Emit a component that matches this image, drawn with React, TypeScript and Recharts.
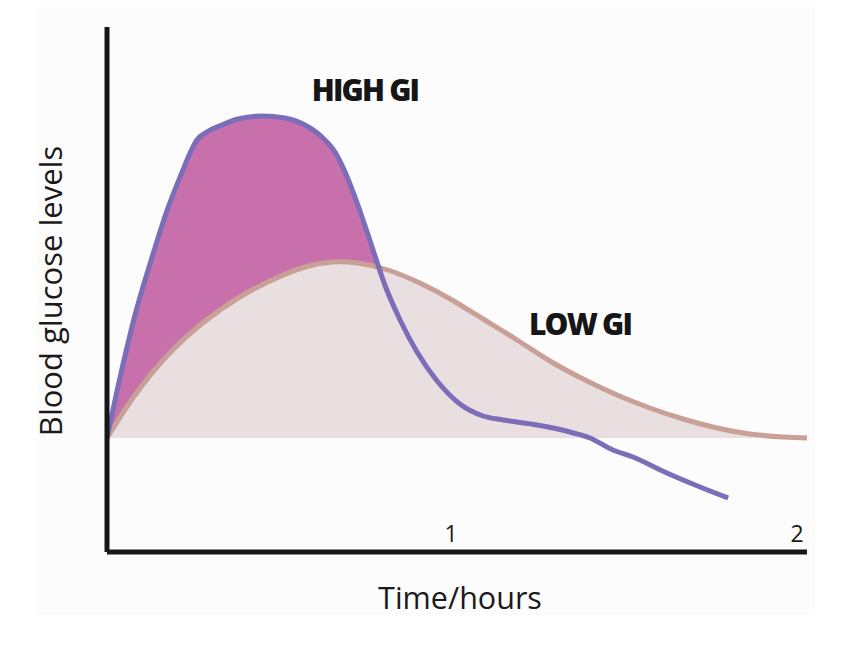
import React from 'react';
import { ComposedChart, Area, Line, XAxis, YAxis } from 'recharts';

const highTimes = [0, 0.038, 0.081, 0.133, 0.173, 0.217, 0.24, 0.26, 0.289, 0.332, 0.379, 0.448, 0.514, 0.572, 0.621, 0.659, 0.688, 0.725, 0.766, 0.803, 0.847, 0.896, 0.954, 1.02, 1.087, 1.145, 1.243, 1.338, 1.396, 1.462, 1.52, 1.618, 1.714, 1.795];
const highLevels = [0, 0.61, 1.23, 1.84, 2.27, 2.66, 2.85, 2.98, 3.06, 3.13, 3.19, 3.22, 3.2, 3.13, 3.01, 2.86, 2.66, 2.33, 1.91, 1.53, 1.18, 0.86, 0.57, 0.34, 0.22, 0.18, 0.13, 0.06, 0.0, -0.12, -0.19, -0.35, -0.49, -0.6];
const highFillCount = 22;

const lowTimes = [0, 0.075, 0.173, 0.28, 0.379, 0.477, 0.572, 0.65, 0.725, 0.812, 0.91, 0.997, 1.087, 1.185, 1.28, 1.376, 1.474, 1.569, 1.665, 1.763, 1.858, 1.954, 2.023];
const lowLevels = [0, 0.4, 0.82, 1.16, 1.4, 1.58, 1.71, 1.76, 1.75, 1.68, 1.54, 1.38, 1.19, 0.98, 0.77, 0.59, 0.43, 0.3, 0.19, 0.1, 0.04, 0.01, 0];

const xTicks = [1, 2];
const xTickLabels = ['1', '2'];

const highData = highTimes.map((t, i) => ({ t, v: highLevels[i] }));
const highFillData = highData.slice(0, highFillCount);
const lowData = lowTimes.map((t, i) => ({ t, v: lowLevels[i] }));

const font = '"Open Sans", "Noto Sans", sans-serif';

const Tick = (props: any) => {
  const { x, payload } = props;
  const idx = xTicks.indexOf(payload.value);
  return (
    <text x={x - 2} y={542} textAnchor="middle" fontSize={23} fontFamily={font} fill="#1a1a1a">
      {idx >= 0 ? xTickLabels[idx] : payload.value}
    </text>
  );
};

export default function App() {
  return (
    <div style={{ position: 'absolute', left: 0, top: 0, width: 850, height: 654, background: '#ffffff' }}>
      <div style={{ position: 'absolute', left: 37, top: 7, width: 778, height: 608, background: '#fcfcfc' }} />
      <div style={{ position: 'absolute', left: 0, top: 0 }}>
        <ComposedChart width={850} height={654} margin={{ top: 27, right: 43, bottom: 72, left: 97 }}>
          <XAxis
            type="number"
            dataKey="t"
            domain={[0, 2.023]}
            ticks={xTicks}
            tick={<Tick />}
            tickLine={false}
            axisLine={{ stroke: '#161616', strokeWidth: 5 }}
            height={30}
            allowDataOverflow
          />
          <YAxis
            type="number"
            domain={[-1.14, 4.11]}
            tick={false}
            tickLine={false}
            axisLine={{ stroke: '#161616', strokeWidth: 5 }}
            width={10}
            allowDataOverflow
          />
          <Area
            data={highFillData}
            dataKey="v"
            type="monotone"
            fill="#c870ab"
            fillOpacity={1}
            stroke="none"
            baseValue={0}
            isAnimationActive={false}
            dot={false}
            activeDot={false}
          />
          <Area
            data={lowData}
            dataKey="v"
            type="natural"
            fill="#e9dfe0"
            fillOpacity={1}
            stroke="#c9a097"
            strokeWidth={5}
            baseValue={0}
            isAnimationActive={false}
            dot={false}
            activeDot={false}
          />
          <Line
            data={highData}
            dataKey="v"
            type="monotone"
            stroke="#7b6db8"
            strokeWidth={5}
            isAnimationActive={false}
            dot={false}
            activeDot={false}
          />
          <text x={365} y={101} textAnchor="middle" fontSize={30} fontWeight={800} letterSpacing={-1.8} fontFamily={font} fill="#161616">HIGH GI</text>
          <text x={580} y={335} textAnchor="middle" fontSize={30} fontWeight={800} letterSpacing={-1.8} fontFamily={font} fill="#161616">LOW GI</text>
          <text x={460} y={609} textAnchor="middle" fontSize={30.5} fontFamily={font} fill="#1a1a1a">Time/hours</text>
          <text transform="translate(62,291) rotate(-90)" textAnchor="middle" fontSize={31} fontFamily={font} fill="#1a1a1a">Blood glucose levels</text>
        </ComposedChart>
      </div>
    </div>
  );
}
